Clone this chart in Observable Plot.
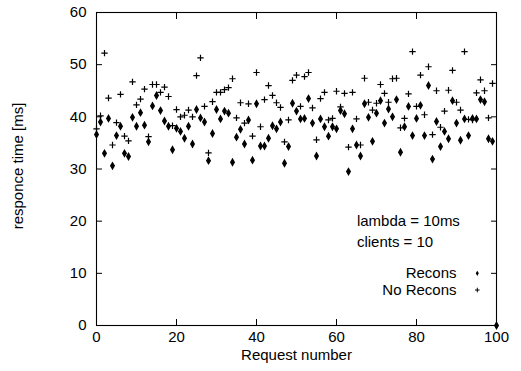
<!DOCTYPE html>
<html>
<head>
<meta charset="utf-8">
<script src="https://cdn.jsdelivr.net/npm/d3@7"></script>
<script src="https://cdn.jsdelivr.net/npm/@observablehq/plot@0.6"></script>
<style>
  html, body { margin: 0; padding: 0; background: #fff; }
  #chart svg { font-family: "Liberation Sans", Arial, Helvetica, sans-serif; }
</style>
</head>
<body>
<div id="chart"></div>
<script>
// Request numbers
const requestX = d3.range(0, 100);
// No Recons response times (ms)
const noReconsY = [
  37.7, 40.2, 52.2, 43.6, 34.6, 38.9, 44.3, 36.3, 35.4, 46.7,
  42.3, 43.4, 45.3, 36.2, 46.2, 46.2, 44.7, 45.7, 43.9, 38.3,
  41.4, 40.0, 40.3, 41.3, 40.0, 47.9, 51.3, 42.0, 33.1, 42.9,
  44.7, 44.7, 45.2, 45.6, 47.3, 39.8, 42.7, 38.8, 42.5, 36.3,
  48.5, 38.1, 43.3, 46.0, 44.1, 42.7, 41.8, 35.2, 39.4, 47.0,
  48.0, 42.0, 47.7, 48.5, 41.7, 35.6, 43.5, 44.7, 39.4, 39.7,
  44.9, 41.9, 44.5, 34.2, 44.7, 39.6, 34.6, 47.4, 42.8, 41.3,
  42.6, 46.2, 44.5, 42.8, 47.3, 47.4, 37.9, 39.7, 44.4, 52.5,
  42.0, 48.0, 40.4, 49.6, 36.6, 45.0, 38.0, 41.1, 45.1, 48.9,
  42.8, 41.3, 52.5, 39.5, 39.4, 44.6, 47.1, 45.0, 39.8, 46.4
];
// Recons response times (ms)
const reconsY = [
  36.6, 39.0, 33.0, 39.7, 30.6, 36.4, 38.2, 33.0, 32.4, 39.9,
  38.2, 40.8, 38.4, 35.2, 42.1, 44.1, 41.2, 39.2, 38.2, 33.7,
  37.8, 37.2, 35.9, 38.2, 34.8, 41.4, 39.8, 39.0, 31.6, 36.8,
  41.4, 39.6, 41.1, 40.7, 31.3, 36.1, 37.6, 34.8, 39.4, 31.7,
  42.5, 34.4, 34.4, 35.9, 38.3, 37.7, 39.0, 31.1, 34.3, 42.6,
  41.1, 39.6, 39.7, 43.5, 38.8, 32.5, 39.6, 38.1, 36.3, 38.1,
  37.7, 41.2, 40.6, 29.5, 37.7, 34.6, 32.5, 42.5, 39.9, 35.3,
  40.7, 43.1, 38.8, 41.5, 40.0, 43.3, 33.2, 38.1, 42.0, 36.4,
  39.7, 42.2, 36.4, 46.0, 31.9, 39.1, 34.3, 37.2, 35.8, 43.1,
  38.8, 35.5, 39.6, 36.4, 39.7, 39.6, 43.3, 42.9, 35.8, 35.3
];
// extra Recons point at the lower right corner
const reconsExtraX = [100];
const reconsExtraY = [0];

const xTicks = [0, 20, 40, 60, 80, 100];
const yTicks = [0, 10, 20, 30, 40, 50, 60];

const noteLines = ["lambda = 10ms", "clients = 10"];
const noteX = [65.1, 65.1];
const noteY = [20, 16];
const keyLabels = ["Recons", "No Recons"];
const keyLabelX = 90;
const keySymbolX = 95.2;
const keyY = [10.0, 6.8];

const noRecons = requestX.map((x, i) => ({x, y: noReconsY[i]}));
const recons = requestX.map((x, i) => ({x, y: reconsY[i]}))
  .concat(reconsExtraX.map((x, i) => ({x, y: reconsExtraY[i]})));
const notes = noteLines.map((t, i) => ({t, x: noteX[i], y: noteY[i]}));
const keys = keyLabels.map((t, i) => ({t, y: keyY[i]}));

const fs = 15;
const chart = Plot.plot({
  width: 521,
  height: 371,
  marginLeft: 96,
  marginRight: 25,
  marginTop: 12,
  marginBottom: 46,
  style: {fontSize: fs + "px", color: "black", background: "white"},
  x: {domain: [0, 100]},
  y: {domain: [0, 60]},
  marks: [
    Plot.frame({stroke: "black", strokeWidth: 1.1}),
    Plot.axisY(yTicks, {anchor: "left", tickSize: 0, tickPadding: 10, fontSize: fs, label: null}),
    Plot.axisY(yTicks, {anchor: "left", tickSize: -6, tickFormat: () => "", label: null}),
    Plot.axisY(yTicks, {anchor: "right", tickSize: -6, tickFormat: () => "", label: null}),
    Plot.axisX(xTicks, {anchor: "bottom", tickSize: 0, tickPadding: 6, fontSize: fs, label: null}),
    Plot.axisX(xTicks, {anchor: "bottom", tickSize: -6, tickFormat: () => "", label: null}),
    Plot.axisX(xTicks, {anchor: "top", tickSize: -6, tickFormat: () => "", label: null}),
    Plot.text(["Request number"], {frameAnchor: "bottom", textAnchor: "middle", dy: 34, fontSize: fs, fill: "black"}),
    Plot.text(["responce time [ms]"], {frameAnchor: "left", textAnchor: "middle", dx: -78, dy: -3, rotate: -90, fontSize: fs, fill: "black"}),
    Plot.dot(noRecons, {x: "x", y: "y", symbol: "plus", r: 2.2, stroke: "black", strokeWidth: 1.2}),
    Plot.dot(recons, {x: "x", y: "y", symbol: "diamond", r: 1.9, fill: "black", stroke: "black", strokeWidth: 1.3}),
    Plot.text(notes, {x: "x", y: "y", text: "t", textAnchor: "start", fontSize: fs, fill: "black"}),
    Plot.text(keys, {x: keyLabelX, y: "y", text: "t", textAnchor: "end", fontSize: fs, fill: "black"}),
    Plot.dot(keys.slice(0, 1), {x: keySymbolX, y: "y", symbol: "diamond", r: 1.6, fill: "black"}),
    Plot.dot(keys.slice(1, 2), {x: keySymbolX, y: "y", symbol: "plus", r: 1.6, stroke: "black", strokeWidth: 1})
  ]
});
document.getElementById("chart").appendChild(chart);
</script>
</body>
</html>
